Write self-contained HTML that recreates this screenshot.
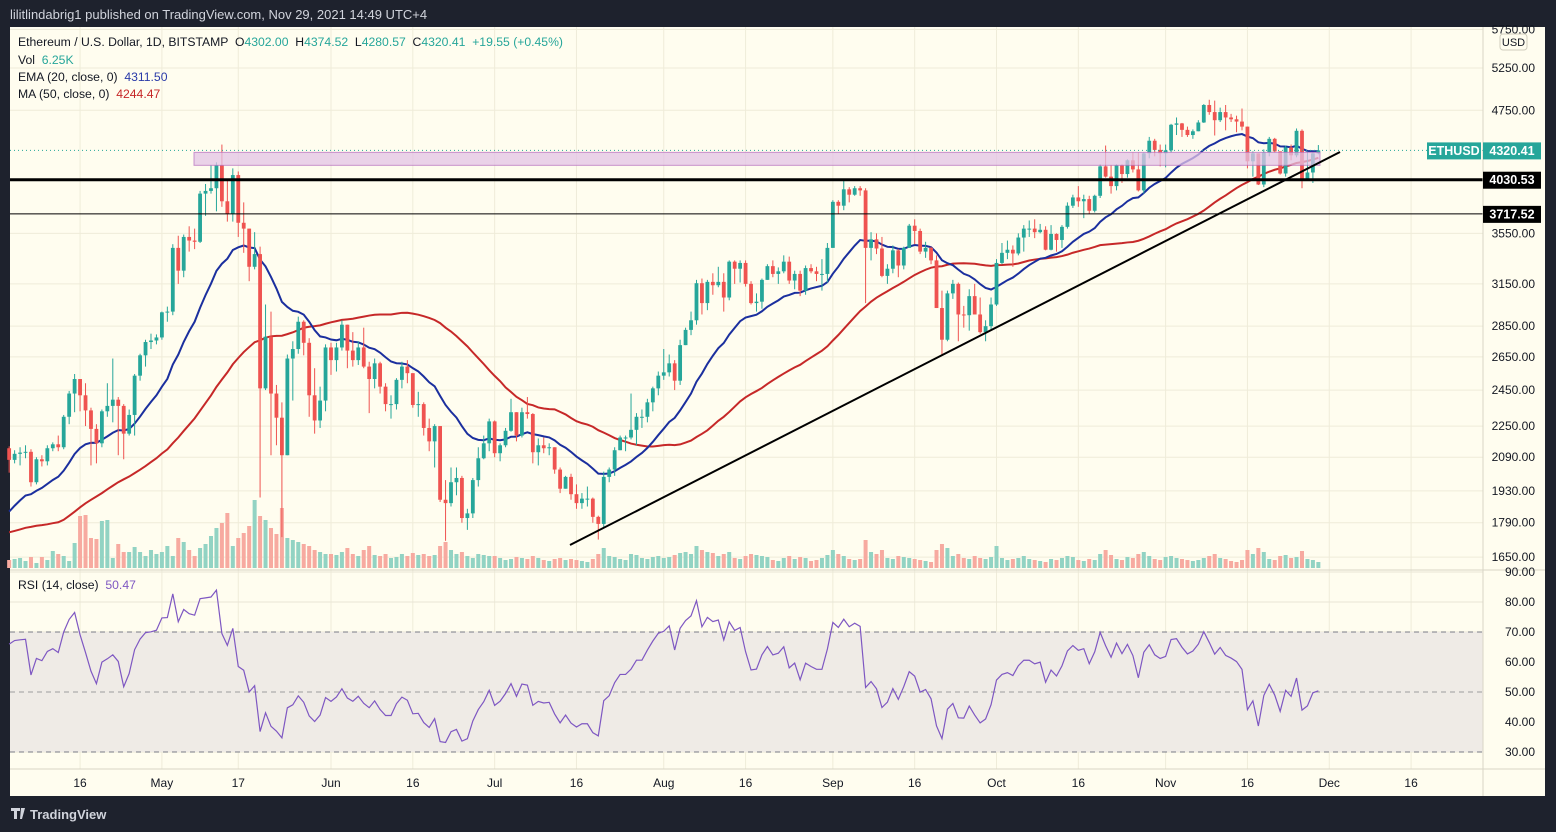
<!DOCTYPE html>
<html><head><meta charset="utf-8"><style>
html,body{margin:0;padding:0;background:#1e222d;}
svg{display:block;font-family:"Liberation Sans",sans-serif;}
</style></head><body>
<svg id="c" width="1556" height="832" xmlns="http://www.w3.org/2000/svg">
<rect x="0" y="0" width="1556" height="832" fill="#1e222d"/>
<text x="10" y="19" fill="#d1d4dc" font-size="13">lilitlindabrig1 published on TradingView.com, Nov 29, 2021 14:49 UTC+4</text>
<rect x="10" y="27" width="1535" height="769" fill="#fffdef"/>
<g id="grid"></g>
<rect x="10" y="632" width="1473" height="120" fill="#efebe6"/>
<g id="vol"></g>
<g id="lines"></g>
<g id="candles"></g>
<g id="draw"></g>
<g id="rsi"></g>
<g id="axes"></g>
<g font-size="12.2" fill="#131722">
<text x="18" y="46" xml:space="preserve">Ethereum / U.S. Dollar, 1D, BITSTAMP  O<tspan fill="#26a69a">4302.00</tspan>  H<tspan fill="#26a69a">4374.52</tspan>  L<tspan fill="#26a69a">4280.57</tspan>  C<tspan fill="#26a69a">4320.41</tspan>  <tspan fill="#26a69a">+19.55 (+0.45%)</tspan></text>
<text x="18" y="64" xml:space="preserve">Vol  <tspan fill="#26a69a">6.25K</tspan></text>
<text x="18" y="81" xml:space="preserve">EMA (20, close, 0)  <tspan fill="#2a3aa8">4311.50</tspan></text>
<text x="18" y="98" xml:space="preserve">MA (50, close, 0)  <tspan fill="#c62828">4244.47</tspan></text>
<text x="18" y="589" xml:space="preserve">RSI (14, close)  <tspan fill="#7e57c2">50.47</tspan></text>
</g>
<g>
<path d="M11 808h9v3h-3v8h-3v-8h-3z M21 808h4l-3 11h-2z" fill="#d1d4dc"/>
<text x="30" y="819" fill="#d1d4dc" font-size="13" font-weight="bold">TradingView</text>
</g>
</svg>
<script>
const warmCloses=[1840,1815,1800,1780,1780,1845,1935,1960,1920,1935,1780,1570,1625,1475,1445,1460,1415,1565,1490,1575,1540,1530,1660,1725,1835,1870,1795,1825,1770,1920,1855,1790,1805,1825,1780,1810,1805,1785,1680,1670,1585,1590,1700,1715,1690,1815,1845,1920,1970,2135];
const closes=[2077,2107,2113,2117,1970,2080,2070,2135,2155,2140,2300,2430,2515,2420,2335,2235,2160,2330,2360,2395,2360,2210,2310,2535,2660,2745,2755,2775,
2945,2950,3430,3250,3520,3490,3480,3900,3925,3950,4170,3830,3720,4075,3640,3590,3280,3380,2460,2780,2430,2295,2100,2640,2700,2880,2740,2420,2280,2390,2710,
2630,2710,2860,2690,2630,2710,2590,2515,2610,2470,2370,2370,2510,2590,2550,2365,2370,2240,2170,2250,1890,1875,1970,1990,1810,1830,1980,2085,2160,2275,
2110,2150,2225,2325,2200,2325,2315,2115,2150,2135,2140,2030,1940,1995,1915,1875,1895,1895,1815,1785,1995,2030,2125,2190,2190,2230,2300,2300,2380,2460,2535,
2555,2610,2505,2725,2825,2890,3155,3010,3165,3140,3165,3050,3320,3265,3310,3150,3010,3020,3180,3285,3225,3245,3320,3175,3225,3100,3270,3245,3225,3225,3430,
3825,3790,3940,3890,3950,3930,3430,3500,3425,3210,3265,3410,3290,3430,3615,3570,3400,3430,3330,2975,2760,3080,3150,2930,2925,3060,2930,2810,2850,3000,
3310,3390,3415,3385,3515,3590,3590,3560,3580,3415,3545,3495,3605,3790,3865,3830,3850,3745,3880,4160,4060,3970,4170,4085,4220,4130,3930,4290,4420,4325,4290,
4320,4590,4605,4535,4480,4520,4615,4810,4730,4640,4730,4670,4650,4625,4570,4210,4290,3985,4300,4440,4310,4090,4350,4270,4525,4040,4100,4290,4320];
const highs=[2145,2125,2140,2150,2130,2090,2100,2150,2165,2200,2310,2445,2545,2500,2490,2350,2260,2340,2490,2640,2410,2370,2340,2545,2670,2760,2800,2795,
2950,2985,3460,3530,3540,3610,3590,3925,3990,4170,4200,4380,4020,4140,4110,3820,3580,3560,3440,3000,2950,2480,2380,2665,2750,2915,2890,2770,2580,2470,2730,
2740,2740,2890,2860,2810,2750,2840,2620,2640,2620,2490,2420,2520,2620,2630,2550,2440,2380,2290,2260,2250,1980,2040,2040,2000,1850,1990,2140,2200,2290,
2280,2160,2240,2400,2320,2350,2410,2320,2185,2190,2160,2140,2040,2000,2010,1960,1920,1950,1900,1820,2020,2040,2140,2200,2200,2430,2320,2340,2400,2470,2560,
2700,2665,2630,2760,2840,2950,3180,3190,3180,3230,3280,3230,3330,3330,3330,3330,3170,3080,3190,3300,3330,3275,3370,3360,3250,3250,3290,3300,3280,3340,3470,
3840,3840,4030,3960,3970,3970,3950,3560,3550,3520,3300,3450,3420,3440,3630,3670,3590,3480,3440,3370,3100,3100,3180,3160,2990,3110,3150,3050,2890,3050,
3340,3470,3490,3450,3550,3620,3660,3670,3630,3610,3620,3550,3620,3820,3890,3970,3890,3880,3890,4180,4370,4170,4180,4180,4230,4300,4300,4300,4460,4440,4380,
4380,4600,4670,4610,4570,4540,4640,4820,4870,4860,4780,4810,4710,4690,4770,4560,4310,4290,4330,4460,4450,4310,4370,4380,4550,4540,4310,4300,4375];
const lows=[2015,2060,2050,2085,1950,1960,2045,2050,2120,2120,2130,2260,2325,2330,2250,2050,2060,2140,2300,2270,2100,2080,2200,2200,2505,2590,2700,2730,
2760,2880,2925,3150,3200,3400,3420,3470,3700,3900,3740,3780,3650,3650,3520,3390,3170,3260,1900,2450,2100,2150,1730,2120,2390,2670,2660,2300,2210,2240,2330,
2540,2560,2690,2580,2590,2600,2580,2320,2460,2430,2330,2290,2340,2460,2490,2350,2300,2200,2120,2040,1880,1715,1860,1910,1790,1760,1810,1950,2080,2120,
2090,2070,2140,2220,2170,2190,2290,2060,2050,2110,2100,2010,1920,1950,1890,1850,1850,1860,1790,1720,1770,1970,2000,2150,2120,2180,2150,2240,2270,2330,2420,
2510,2530,2450,2480,2730,2790,2860,2930,2960,3070,3125,2950,3030,3150,3160,3130,3000,2950,2970,3180,3200,3150,3230,3150,3110,3060,3070,3230,3170,3100,3160,
3430,3720,3750,3820,3880,3880,3010,3330,3380,3200,3150,3230,3200,3260,3430,3460,3380,3350,3300,2975,2660,2750,3040,2750,2840,2820,2930,2800,2750,2820,
2990,3300,3340,3280,3370,3400,3520,3510,3550,3410,3410,3400,3430,3590,3770,3780,3680,3720,3730,3860,4050,3900,3930,4000,4050,4100,3920,3900,4240,4260,4160,
4150,4300,4480,4460,4460,4440,4520,4610,4700,4475,4620,4530,4620,4510,4530,4140,4060,3980,3960,4260,4300,4080,4060,4220,4250,3950,4040,4000,4280];
const volumes=[8,9,10,7,11,5,11,8,17,14,12,7,25,52,53,30,29,47,48,10,24,16,16,21,16,12,18,14,
16,22,12,30,26,18,12,20,24,32,40,45,55,22,30,35,42,68,52,48,40,34,60,30,28,26,24,22,18,16,14,
14,13,16,20,14,12,18,22,13,12,14,10,11,14,12,15,13,14,12,13,22,26,18,14,16,12,10,14,13,12,
12,10,8,9,11,10,9,12,10,8,7,9,10,8,9,8,7,6,9,14,20,12,11,9,8,14,13,10,9,11,12,
10,11,13,15,16,14,22,18,16,15,12,14,16,10,9,12,14,13,12,11,8,7,10,12,9,11,10,7,8,10,13,
18,14,12,9,8,9,28,16,14,18,10,9,12,11,10,9,8,7,6,18,24,20,12,14,10,9,12,10,9,11,
22,10,8,9,10,12,9,8,7,6,9,8,10,12,11,8,7,9,8,14,18,13,9,8,11,10,14,16,12,9,8,
11,12,10,9,8,7,8,10,12,14,10,9,7,6,8,18,14,20,16,9,8,12,13,10,11,17,9,8,6];
const priceTicks=[5750,5250,4750,3550,3150,2850,2650,2450,2250,2090,1930,1790,1650];
const rsiTicks=[90,80,70,60,50,40,30];
const dateLabels=["16","May","17","Jun","16","Jul","16","Aug","16","Sep","16","Oct","16","Nov","16","Dec","16"];
const dateIdx=[13,28,42,59,74,89,104,120,135,151,166,181,196,212,227,242,257];
const levels=[4030.53,3717.52];
const zonePrices=[4300,4170];

const NS="http://www.w3.org/2000/svg";
function mk(p,t,a){const e=document.createElementNS(NS,t);for(const k in a)e.setAttribute(k,a[k]);p.appendChild(e);return e;}
const X=i=>331+(i-59)*5.455;
const Y=p=>68+(Math.log(5250)-Math.log(p))*422.6;
const RY=v=>692-(v-50)*3;
const all=warmCloses.concat(closes), W=warmCloses.length;
const n=Math.min(closes.length,highs.length,lows.length,volumes.length);

const grid=document.getElementById('grid');
dateIdx.forEach(d=>{const l=mk(grid,'line',{x1:X(d),x2:X(d),y1:27,y2:769,stroke:'#efecd9','stroke-width':1});

});
priceTicks.forEach(p=>{const l=mk(grid,'line',{x1:10,x2:1483,y1:Y(p),y2:Y(p),stroke:'#efecd9'});

});
rsiTicks.forEach(v=>{const l=mk(grid,'line',{x1:10,x2:1483,y1:RY(v),y2:RY(v),stroke:'#e8e5d6'});

});

const vol=document.getElementById('vol'), cg=document.getElementById('candles');
for(let i=0;i<n;i++){
 const o=all[W+i-1], c=closes[i];
 const up=c>=o, x=X(i);
 const r=mk(vol,'rect',{x:x-2,y:568-volumes[i],width:4,height:volumes[i],fill:up?'#92d3c3':'#f7aaa0'});
 
 
 const col=up?'#26a69a':'#ef5350';
 const h=Math.max(highs[i],o,c), lo=Math.min(lows[i],o,c);
 const w=mk(cg,'line',{x1:x,x2:x,y1:Y(h),y2:Y(lo),stroke:col,'stroke-width':1});
 
 
 const yt=Y(Math.max(o,c)), yb=Y(Math.min(o,c));
 const b=mk(cg,'rect',{x:x-1.9,y:yt,width:3.8,height:Math.max(1,yb-yt),fill:col});
 
 
}
const lg=document.getElementById('lines');
let ema=[],e=all.slice(0,20).reduce((a,b)=>a+b)/20;
for(let k=0;k<all.length;k++){ if(k>=20) e=e+(all[k]-e)*2/21; ema.push(e);}
let emaPts=[],maPts=[];
for(let i=0;i<n;i++){const k=W+i;emaPts.push(X(i)+','+Y(ema[k]));
 let s=0;for(let j=k-49;j<=k;j++)s+=all[j];maPts.push(X(i)+','+Y(s/50));}
const ml=mk(lg,'polyline',{points:maPts.join(' '),fill:'none',stroke:'#c62828','stroke-width':2});


const el=mk(lg,'polyline',{points:emaPts.join(' '),fill:'none',stroke:'#1b2f9e','stroke-width':2});


const dg=document.getElementById('draw');
const zone=mk(dg,'rect',{x:194,y:Y(zonePrices[0]),width:1126,height:Y(zonePrices[1])-Y(zonePrices[0]),fill:'#e3c3e6',stroke:'#b36bbd','stroke-opacity':0.7,'fill-opacity':0.75});


const l1=mk(dg,'line',{x1:10,x2:1483,y1:Y(levels[0]),y2:Y(levels[0]),stroke:'#000','stroke-width':3});


const l2=mk(dg,'line',{x1:10,x2:1483,y1:Y(levels[1]),y2:Y(levels[1]),stroke:'#000','stroke-width':1});


const tl=mk(dg,'line',{x1:570,y1:545,x2:1340,y2:152,stroke:'#000','stroke-width':2});


const lp=mk(dg,'line',{x1:10,x2:1483,y1:Y(closes[n-1]),y2:Y(closes[n-1]),stroke:'#26a69a','stroke-dasharray':'1 3'});


const rg=document.getElementById('rsi');
[70,50,30].forEach(v=>{const d=mk(rg,'line',{x1:10,x2:1483,y1:RY(v),y2:RY(v),stroke:v==50?'#9e9e9e':'#787b86','stroke-dasharray':'5 4'});

});
let ag=0,al=0,rsiPts=[];
for(let k=1;k<all.length;k++){const ch=all[k]-all[k-1],g=Math.max(ch,0),l=Math.max(-ch,0);
 if(k<=14){ag+=g/14;al+=l/14;} else {ag=(ag*13+g)/14;al=(al*13+l)/14;}
 if(k>=W){const r=al==0?100:100-100/(1+ag/al);rsiPts.push(X(k-W)+','+RY(r));}}
const rl=mk(rg,'polyline',{points:rsiPts.join(' '),fill:'none',stroke:'#7e57c2','stroke-width':1.2});


const ax=document.getElementById('axes');
const sep=(a)=>{const l=mk(ax,'line',a);l.setAttribute('stroke','#d8d5c5');return l;};
let s1=sep({x1:1483,x2:1483,y1:27,y2:796});
let s2=sep({x1:10,x2:1545,y1:570,y2:570});
let s3=sep({x1:10,x2:1545,y1:769,y2:769});
priceTicks.forEach(p=>{const t=mk(ax,'text',{x:1535,y:Y(p)+4,'text-anchor':'end','font-size':12,fill:'#131722'});t.textContent=p.toFixed(2);

});
rsiTicks.forEach(v=>{const t=mk(ax,'text',{x:1535,y:RY(v)+4,'text-anchor':'end','font-size':12,fill:'#131722'});t.textContent=v.toFixed(2);

});
dateLabels.forEach((s,j)=>{const t=mk(ax,'text',{x:X(dateIdx[j]),y:787,'text-anchor':'middle','font-size':12,fill:'#131722'});t.textContent=s;

});
const ub=mk(ax,'rect',{x:1500,y:34,width:27,height:16,rx:3,fill:'#fffdef',stroke:'#d0cdbd'});


const ut=mk(ax,'text',{x:1513.5,y:46,'text-anchor':'middle','font-size':11,fill:'#131722'});ut.textContent='USD';


function tag(x,w,yc,bg,txt,name){const r=mk(ax,'rect',{x:x,y:yc-8,width:w,height:17,fill:bg});
 
 
 const t=mk(ax,'text',{x:x+w/2,y:yc+4.5,'text-anchor':'middle','font-size':12.5,fill:'#fff','font-weight':'bold'});t.textContent=txt;
 
 }
tag(1427,54,Y(closes[n-1]),'#26a69a','ETHUSD','symbol-tag');
tag(1483,58,Y(closes[n-1]),'#26a69a',closes[n-1]===4320?'4320.41':closes[n-1].toFixed(2),'last-price-tag');
tag(1483,58,Y(levels[0]),'#000',levels[0].toFixed(2),'level-tag-4030');
tag(1483,58,Y(levels[1]),'#000',levels[1].toFixed(2),'level-tag-3717');
</script>
</body></html>
